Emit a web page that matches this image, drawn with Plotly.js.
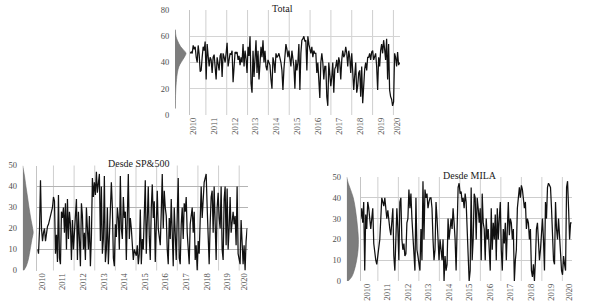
<!DOCTYPE html>
<html>
<head>
<meta charset="utf-8">
<script src="https://cdn.plot.ly/plotly-3.0.1.min.js"></script>
<style>html,body{margin:0;padding:0;background:#fff;}#chart{width:589px;height:307px;}</style>
</head>
<body>
<div id="chart"></div>
<script>
// ---------- DATA ----------
const yearLabels = ['2010','2011','2012','2013','2014','2015','2016','2017','2018','2019','2020'];
const panelTitles = ['Total', 'Desde SP&500', 'Desde MILA'];

// Total (evenly sampled, 2010 -> early 2020)
const totalValues = [
  47,48,47,53,50,52, 44,40,53,46,33, 34,44,52,49,56, 27,54,45,37,44, 42,32,44,46,38,
  27,44,40,34,45, 47,29,47,44,40, 47,55,37,45,47, 46,49,25,40,48, 47,48,42,45,38,
  44,40,54,37,49, 43,32,52,45,60, 24,17,49,29,40, 57,32,49,27,44, 52,44,57,40,49,
  37,34,42,40,38, 27,20,44,40,32, 47,44,45,47,44, 40,34,19,35,44, 54,50,44,49,40, 37,
  49,44,37,20, 42,34,40, 54,19,47, 57,58,60,56, 57,34,60, 54,49,47, 52,44,49,47,
  47,32,40, 19,13,40, 47,40,27,37, 37,14,7, 40,32,22, 29,40,17,35, 37,42,32, 44,40,27,
  42,49,44,46, 52,47,37, 49,44,32, 47,27,19,30, 40,17,22, 32,34,14, 37,9,27,35,
  40,34,44, 44,47,42, 48,49,42,45, 47,37,19, 44,37,49, 54,47,57,50, 42,58,27,
  54,19,14, 12,7,10,47, 44,37,48, 38,40
];

// Desde SP&500
const spValues = [
  10,8,19,43,20, 14,18,20,14,19, 21,22,24,26,28, 30,35,33,8,17, 4,36,6,3,
  28,25,30,18,32, 10,34,15,28,22, 5,24,10,18,26, 34,5,28,15,2, 32,26,10,18,5,
  30,20,10,26,2, 16,44,35,42,36, 47,37,42,46,14, 40,8,15,45,4, 10,30,3,18,25,
  42,30,6,2,22, 16,30,25,10,45, 20,15,35,25,28, 5,22,46,15,25, 20,12,5,10,8,
  7,12,3,8,29, 3,15,10,22,43, 8,28,40,16,5, 30,41,25,33,4, 18,38,20,14,12,
  28,46,20,38,30, 26,10,3,25,15, 34,12,2,30,18, 5,26,44,6,3, 22,30,15,32,28,
  35,18,8,3,22, 27,30,18,28,5, 12,0,14,8,20, 40,25,36,42,44, 46,30,10,3,22,
  35,38,18,40,12, 5,30,37,25,20, 40,10,5,34,40, 12,39,10,20,35, 18,25,28,22,26,
  12,40,8,5,3, 24,10,3,12,0, 14,20
];

// Desde MILA
const milaValues = [
  30,35,28,38,5, 32,25,38,35,28, 25,30,35,18,12, 10,8,12,15,20, 30,40,38,36,40,
  35,30,34,28,25, 22,30,35,12,5, 20,35,25,10,38, 40,20,15,18,12, 13,28,30,44,35,
  42,30,20,15,5, 40,15,12,8,5, 25,10,48,20,44, 40,42,35,38,40, 40,35,20,10,15,
  38,30,15,10,20, 15,10,20,0,12, 5,8,30,20,28, 30,25,35,28,20, 5,30,45,47,42,
  43,38,40,35,42, 38,25,10,0,5, 45,10,20,42,40, 20,40,35,28,35, 10,42,28,25,10,
  30,20,25,10,5, 35,15,28,20,32, 10,35,20,30,38, 15,5,25,18,28, 10,25,38,22,30,
  28,20,25,0,10, 15,35,42,45,40, 46,44,40,35,38, 25,30,28,20,25, 5,2,8,0,10,
  25,28,20,10,15, 25,30,20,5,38, 30,45,47,46,45, 35,20,10,8,38, 25,20,30,22,10,
  5,3,12,8,5, 45,48,35,20,28,28
];

// Distribution (relative density, peak = 1) at value levels
const totalDensLevels = [5,15,22,27,32,37,40,42,45,47,50,52,57,60,65];
const totalDens       = [0.03,0.05,0.09,0.14,0.21,0.36,0.55,0.70,0.91,1.0,0.73,0.52,0.21,0.09,0.03];
const spDensLevels = [0,2,5,10,12,15,18,20,25,30,35,40,45,47,50];
const spDens       = [0.10,0.33,0.52,0.71,0.78,0.88,1.0,0.95,0.76,0.60,0.46,0.31,0.17,0.10,0.0];
const milaDensLevels = [0,2,5,10,15,20,25,30,35,40,45,47,50];
const milaDens       = [0.13,0.43,0.64,0.85,0.97,1.0,0.94,0.85,0.73,0.56,0.26,0.13,0.0];

const totalYTicks = [0,20,40,60,80];
const subYTicks = [0,10,20,30,40,50];

// ---------- LAYOUT CONFIG (positions / styles) ----------
const W = 589, H = 307;
const panels = [
  { values: totalValues, levels: totalDensLevels, dens: totalDens, yTicks: totalYTicks, yMax: 80,
    plotPx: [190, 400], densPx: [175, 190], yPx: [10, 115], peakPx: 11,
    xStart: 2009.856, xEnd: 2019.904, gridStart: 2010.608, hgrid: '#d4d4d4',
    title: panelTitles[0], titlePx: [282, 8.5] },
  { values: spValues, levels: spDensLevels, dens: spDens, yTicks: subYTicks, yMax: 50,
    plotPx: [37.3, 247.5], densPx: [22.7, 37.3], yPx: [165.5, 270.5], peakPx: 10.5,
    xStart: 2009.787, xEnd: 2019.942, gridStart: 2010.56, hgrid: '#b4b4b4',
    title: panelTitles[1], titlePx: [138.7, 163.5] },
  { values: milaValues, levels: milaDensLevels, dens: milaDens, yTicks: subYTicks, yMax: 50,
    plotPx: [360.5, 572], densPx: [346.7, 360.5], yPx: [177, 281], peakPx: 11.7,
    xStart: 2009.698, xEnd: 2019.985, gridStart: 2010.535, hgrid: '#cdcdcd',
    title: panelTitles[2], titlePx: [470, 175.5] }
];

const fontFam = '"Liberation Serif", "Times New Roman", serif';
const tickFont = { family: fontFam, size: 8.5, color: '#4d4d4d' };
const ax = n => n === 1 ? 'xaxis' : 'xaxis' + n;
const ay = n => n === 1 ? 'yaxis' : 'yaxis' + n;
const rx = n => n === 1 ? 'x' : 'x' + n;
const ry = n => n === 1 ? 'y' : 'y' + n;

const traces = [];
const layout = {
  width: W, height: H, margin: { l: 0, r: 0, t: 0, b: 0 },
  paper_bgcolor: '#fff', plot_bgcolor: 'rgba(0,0,0,0)', showlegend: false,
  annotations: [], shapes: []
};

panels.forEach((p, k) => {
  const xMain = 2 * k + 1, xDen = 2 * k + 2;
  const yMain = 2 * k + 1, yDen = 2 * k + 2;
  const n = p.values.length;
  const xs = p.values.map((_, i) => p.xStart + i * (p.xEnd - p.xStart) / (n - 1));
  const yDom = [1 - p.yPx[1] / H, 1 - p.yPx[0] / H];
  const range = [p.xStart - 0.01, p.xEnd + 0.02];

  // vertical gridlines (between year labels), drawn beneath the data
  yearLabels.slice(0, -1).forEach((_, i) => {
    layout.shapes.push({
      type: 'line', layer: 'below', xref: rx(xMain), yref: ry(yMain) + ' domain',
      x0: p.gridStart + i, x1: p.gridStart + i, y0: 0, y1: 1,
      line: { color: '#cfcfcf', width: 1 }
    });
  });

  // density
  traces.push({
    type: 'scatter', mode: 'lines', x: p.dens, y: p.levels,
    xaxis: rx(xDen), yaxis: ry(yDen), fill: 'tozerox', fillcolor: '#7d7d7d',
    line: { color: '#6a6a6a', width: 0.6, shape: 'spline' }, hoverinfo: 'skip'
  });
  // series
  traces.push({
    type: 'scatter', mode: 'lines', x: xs, y: p.values,
    xaxis: rx(xMain), yaxis: ry(yMain),
    line: { color: '#111111', width: 1.25 }, hoverinfo: 'skip'
  });

  const labelX = yearLabels.map((y, i) => i < yearLabels.length - 1 ? +y : p.xEnd - 0.12);

  layout[ax(xMain)] = {
    domain: [p.plotPx[0] / W, p.plotPx[1] / W], range: range, anchor: ry(yMain),
    tickmode: 'array', tickvals: labelX, ticktext: yearLabels, tickangle: -90,
    tickfont: tickFont, ticks: '', showgrid: false, zeroline: false, showline: false
  };
  layout[ax(xDen)] = {
    domain: [p.densPx[0] / W, p.densPx[1] / W],
    range: [0, (p.densPx[1] - p.densPx[0]) / p.peakPx], anchor: ry(yDen), visible: false
  };
  layout[ay(yMain)] = {
    domain: yDom, range: [0, p.yMax], anchor: rx(xMain),
    tickmode: 'array', tickvals: p.yTicks.slice(1, -1), showticklabels: false, ticks: '',
    showgrid: true, gridcolor: p.hgrid, zeroline: false,
    showline: true, linecolor: '#c4c4c4', linewidth: 1
  };
  layout[ay(yDen)] = {
    domain: yDom, range: [0, p.yMax], anchor: rx(xDen),
    tickmode: 'array', tickvals: p.yTicks, tickfont: tickFont,
    ticks: 'outside', ticklen: 3, tickcolor: 'rgba(0,0,0,0)',
    showgrid: false, zeroline: false, showline: false
  };
  layout.annotations.push({
    text: p.title, xref: 'paper', yref: 'paper',
    x: p.titlePx[0] / W, y: 1 - p.titlePx[1] / H, xanchor: 'center', yanchor: 'middle',
    showarrow: false, font: { family: fontFam, size: 10, color: '#1a1a1a' }
  });
});

Plotly.newPlot('chart', traces, layout, { staticPlot: true, displayModeBar: false });
</script>
</body>
</html>
